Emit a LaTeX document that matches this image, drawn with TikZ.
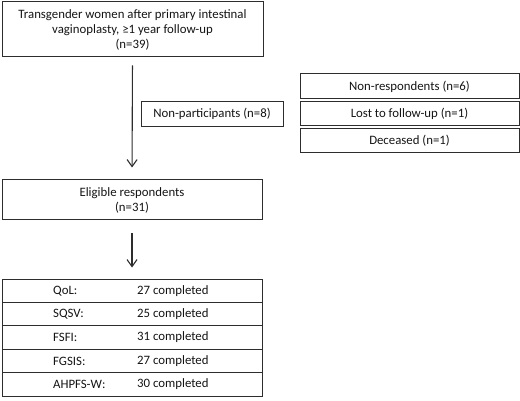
\documentclass[tikz,border=0pt]{standalone}
\usepackage{fontspec}
\setmainfont{Carlito}
\usetikzlibrary{arrows.meta,positioning}
\definecolor{fcline}{RGB}{45,45,45}
\definecolor{fctext}{RGB}{20,20,20}

\tikzset{
  flowbox/.style={draw=fcline,line width=1pt,rectangle,inner sep=2pt,
    align=center,text=fctext,font=\fontsize{12.8}{15}\selectfont},
  rowbox/.style={draw=fcline,line width=1pt,rectangle,minimum width=260pt,
    minimum height=23.4pt,inner sep=0pt},
  celltext/.style={anchor=west,inner sep=0pt,text=fctext,
    font=\fontsize{12.8}{15}\selectfont},
  flowarrow/.style={-{Straight Barb[length=7pt,width=10pt]},line width=1.1pt,fcline}
}

\begin{document}
\begin{tikzpicture}[x=1pt,y=-1pt]
  \useasboundingbox (0,0) rectangle (520,401);
  % cohort and exclusions
  \node[flowbox,minimum width=261pt,minimum height=55pt] (cohort) at (132.5,29.5)
    {Transgender women after primary intestinal\\vaginoplasty, \symbol{"2265}1 year follow-up\\(n=39)};
  \node[flowbox,minimum width=142pt,minimum height=24.5pt] (nonpart) at (212,114.25) {Non-participants (n=8)};
  \node[flowbox,minimum width=219pt,minimum height=25pt] (nonresp) at (409.5,86.5) {Non-respondents (n=6)};
  \node[flowbox,minimum width=219pt,minimum height=24pt] (lost) at (409.5,114) {Lost to follow-up (n=1)};
  \node[flowbox,minimum width=219pt,minimum height=24pt] (deceased) at (409.5,141) {Deceased (n=1)};
  % eligible
  \node[flowbox,minimum width=260pt,minimum height=40pt] (eligible) at (132,200)
    {Eligible respondents\\(n=31)};
  % questionnaires
  \foreach \name/\val [count=\i] in {QoL:/27, SQSV:/25, FSFI:/31, FGSIS:/27, AHPFS-W:/30} {
    \node[rowbox] (row\i) at (132,279+23.4*\i-11.7) {};
    \node[celltext] (lab\i) at (53,279+23.4*\i-11.7) {\name};
    \node[celltext] (val\i) at (137,279+23.4*\i-11.7) {\val{} completed};
  }
  \draw[flowarrow,shorten <=8pt,shorten >=12pt] (cohort.south) -- (eligible.north);
  \draw[flowarrow,shorten <=13pt,shorten >=11pt] (eligible.south) -- (row1.north -| eligible.south);
\end{tikzpicture}
\end{document}
